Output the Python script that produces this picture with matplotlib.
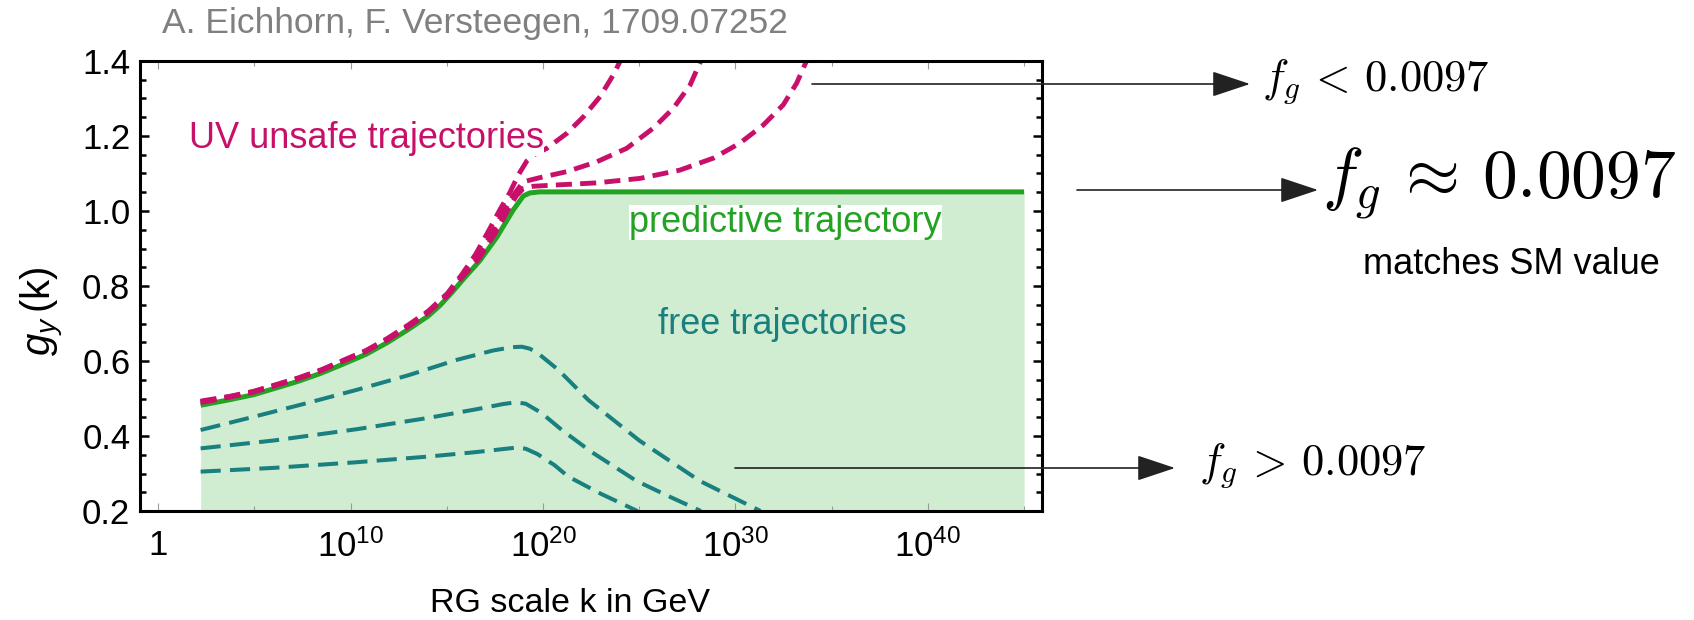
import matplotlib
matplotlib.use("Agg")
import matplotlib.pyplot as plt
from matplotlib.ticker import FixedLocator, FixedFormatter, MultipleLocator, FormatStrFormatter, NullFormatter
from matplotlib.patches import FancyArrowPatch

# ---------------- data (log10 of k in GeV, and g_y) ----------------
green_logk = [2.2, 3.73, 4.94, 6.12, 7.28, 8.49, 9.62, 10.8, 11.9, 12.99, 14.03, 14.64, 15.3,
              15.85, 16.72, 17.59, 18.45, 18.97, 19.3, 19.8, 45.0]
green_g = [0.482, 0.497, 0.510, 0.528, 0.546, 0.568, 0.592, 0.618, 0.649, 0.684, 0.720, 0.748, 0.785,
           0.818, 0.868, 0.930, 1.003, 1.040, 1.048, 1.051, 1.051]

unsafe_a_logk = [2.2, 3.73, 4.94, 6.12, 7.28, 8.49, 9.62, 10.8, 11.9, 12.99, 14.03, 15.02, 15.77,
                 16.5, 17.2, 17.75, 18.28, 18.71, 19.15, 19.6, 20.19, 21.23, 22.09, 22.96, 23.65, 24.3]
unsafe_a_g = [0.493, 0.506, 0.519, 0.537, 0.555, 0.577, 0.602, 0.628, 0.660, 0.696, 0.733, 0.780, 0.830,
              0.885, 0.950, 1.003, 1.050, 1.096, 1.133, 1.152, 1.167, 1.207, 1.251, 1.305, 1.363, 1.43]

unsafe_b_logk = [2.2, 3.73, 4.94, 6.12, 7.28, 8.49, 9.62, 10.8, 11.9, 12.99, 14.03, 15.02, 15.77,
                 16.6, 17.35, 18.0, 18.5, 18.97, 19.84, 21.23, 22.78, 24.34, 25.73, 26.77, 27.64, 28.45]
unsafe_b_g = [0.491, 0.505, 0.518, 0.536, 0.554, 0.576, 0.601, 0.627, 0.658, 0.693, 0.731, 0.776, 0.824,
              0.877, 0.940, 1.003, 1.045, 1.078, 1.089, 1.105, 1.131, 1.167, 1.221, 1.274, 1.336, 1.43]

unsafe_c_logk = [2.2, 3.73, 4.94, 6.12, 7.28, 8.49, 9.62, 10.8, 11.9, 12.99, 14.03, 15.02, 15.77,
                 16.7, 17.5, 18.2, 18.6, 18.97, 19.5, 20.53, 22.78, 25.04, 27.11, 28.85, 30.23, 31.44,
                 32.48, 33.18, 33.95]
unsafe_c_g = [0.489, 0.504, 0.517, 0.535, 0.553, 0.575, 0.600, 0.626, 0.656, 0.691, 0.729, 0.774, 0.822,
              0.875, 0.940, 1.005, 1.040, 1.060, 1.066, 1.069, 1.075, 1.087, 1.109, 1.141, 1.181, 1.229,
              1.283, 1.341, 1.43]

free1_logk = [2.2, 4.94, 7.6, 10.31, 13.0, 15.51, 17.4, 18.4, 18.9, 19.3, 19.7, 20.8, 22.35, 25.0, 28.15, 31.3]
free1_g = [0.416, 0.451, 0.486, 0.523, 0.562, 0.603, 0.628, 0.637, 0.638, 0.633, 0.622, 0.576, 0.496, 0.388, 0.280, 0.200]

free2_logk = [2.2, 6.0, 10.3, 14.0, 16.5, 17.9, 18.6, 19.1, 19.9, 21.0, 22.5, 24.86, 26.5, 28.2]
free2_g = [0.367, 0.388, 0.418, 0.448, 0.471, 0.485, 0.490, 0.486, 0.462, 0.415, 0.358, 0.280, 0.240, 0.200]

free3_logk = [2.2, 6.0, 10.3, 14.0, 16.5, 17.9, 18.6, 19.1, 19.7, 20.6, 21.3, 23.0, 24.9]
free3_g = [0.305, 0.315, 0.330, 0.345, 0.357, 0.365, 0.369, 0.366, 0.352, 0.322, 0.292, 0.246, 0.200]

xtick_exps = [0, 10, 20, 30, 40]
xtick_labels = ["1", r"$\mathregular{10^{10}}$", r"$\mathregular{10^{20}}$",
                r"$\mathregular{10^{30}}$", r"$\mathregular{10^{40}}$"]
xminor_exps = [5, 15, 25, 35, 45]

# ---------------- style ----------------
plt.rcParams['font.family'] = ['Liberation Sans', 'DejaVu Sans']
plt.rcParams['mathtext.fontset'] = 'custom'
plt.rcParams['mathtext.rm'] = 'Liberation Sans'
plt.rcParams['mathtext.it'] = 'Liberation Sans:italic'
plt.rcParams['mathtext.bf'] = 'Liberation Sans:bold'

MAGENTA = '#c8106a'
TEAL = '#1a7f7f'
GREEN = '#22a322'
FILL = '#d1edd1'

W, H = 1694, 620
fig = plt.figure(figsize=(W / 100, H / 100), dpi=100)
L, R, T, B = 140, 1042, 61, 511
ax = fig.add_axes([L / W, 1 - B / H, (R - L) / W, (B - T) / H])


def pw(v):
    return [10.0 ** e for e in v]


def fx(x, y):
    return (x / W, 1 - y / H)


ax.set_xscale('log')
ax.set_xlim(10 ** -0.95, 10 ** 45.93)
ax.set_ylim(0.2, 1.4)

ax.fill_between(pw(green_logk), green_g, 0.0, color=FILL, lw=0, zorder=1)

for lk, g in [(free1_logk, free1_g), (free2_logk, free2_g), (free3_logk, free3_g)]:
    ax.plot(pw(lk), g, color=TEAL, lw=2.9, dashes=(5.0, 2.3), dash_capstyle='butt', zorder=3)

ax.plot(pw(green_logk), green_g, color=GREEN, lw=3.6, solid_capstyle='butt', zorder=4)

for lk, g in [(unsafe_c_logk, unsafe_c_g), (unsafe_b_logk, unsafe_b_g), (unsafe_a_logk, unsafe_a_g)]:
    ax.plot(pw(lk), g, color=MAGENTA, lw=3.5, dashes=(3.3, 1.7), dash_capstyle='butt', zorder=5)

# ticks
ax.xaxis.set_major_locator(FixedLocator(pw(xtick_exps)))
ax.xaxis.set_major_formatter(FixedFormatter(xtick_labels))
ax.xaxis.set_minor_locator(FixedLocator(pw(xminor_exps)))
ax.xaxis.set_minor_formatter(NullFormatter())
ax.yaxis.set_major_locator(MultipleLocator(0.2))
ax.yaxis.set_minor_locator(MultipleLocator(0.05))
ax.yaxis.set_major_formatter(FormatStrFormatter('%.1f'))

ax.tick_params(axis='y', which='major', direction='in', length=6.5, width=1.8, color='black',
               left=True, right=True, labelsize=25, pad=7)
ax.tick_params(axis='y', which='minor', direction='in', length=4.3, width=1.8, color='black',
               left=True, right=True)
ax.tick_params(axis='x', which='major', direction='in', length=6, width=0.8, color='#9a9a9a',
               top=True, bottom=True, labelsize=25, pad=13)
ax.tick_params(axis='x', which='minor', direction='in', length=3.5, width=0.8, color='#9a9a9a',
               top=True, bottom=True)
for s in ax.spines.values():
    s.set_linewidth(2.2)
    s.set_color('black')
    s.set_zorder(6)

# in-plot labels
ax.text(10 ** 1.6, 1.168, 'UV unsafe trajectories', color=MAGENTA, fontsize=26, va='baseline',
        ha='left', zorder=7, bbox=dict(fc='white', ec='none', pad=0))
ax.text(10 ** 24.46, 0.944, 'predictive trajectory', color=GREEN, fontsize=26, va='baseline',
        ha='left', zorder=7, bbox=dict(fc='white', ec='none', pad=0))
ax.text(10 ** 25.97, 0.672, 'free trajectories', color=TEAL, fontsize=26, va='baseline',
        ha='left', zorder=7)

# axis labels and title
fig.text(*fx(475, 24), 'A. Eichhorn, F. Versteegen, 1709.07252', color='#808080', fontsize=25.5,
         ha='center', va='center')
fig.text(*fx(42, 311), r'$g_y\,$(k)', rotation=90, fontsize=29, ha='center', va='center')
fig.text(*fx(570, 603), 'RG scale k in GeV', fontsize=24.5, ha='center', va='center')

# arrows and annotations
for (x0, x1, y) in [(812, 1250, 84), (1077, 1318, 190), (735, 1175, 468)]:
    arr = FancyArrowPatch(fx(x0, y), fx(x1, y), transform=fig.transFigure,
                          arrowstyle='-|>,head_length=2.4,head_width=0.8', mutation_scale=10,
                          shrinkA=0, shrinkB=0, color='#222222', lw=1.2)
    fig.add_artist(arr)

fig.text(*fx(1262, 82), r'$f_g\,<\,0.0097$', math_fontfamily='cm', fontsize=32, ha='left', va='center')
fig.text(*fx(1322, 184), r'$f_g\,\approx\,0.0097$', math_fontfamily='cm', fontsize=50, ha='left', va='center')
fig.text(*fx(1363, 264), 'matches SM value', fontsize=26, ha='left', va='center')
fig.text(*fx(1199, 466), r'$f_g\,>\,0.0097$', math_fontfamily='cm', fontsize=32, ha='left', va='center')

fig.savefig('out.png', dpi=100)
